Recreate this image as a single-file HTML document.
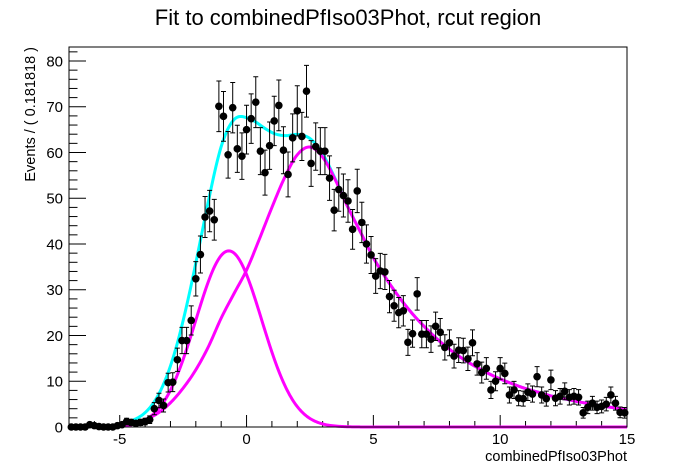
<!DOCTYPE html>
<html><head><meta charset="utf-8">
<style>
html,body{margin:0;padding:0;background:#fff;}
svg{display:block;font-family:"Liberation Sans",Arial,sans-serif;}
</style></head>
<body>
<svg id="chart" width="696" height="474" viewBox="0 0 696 474">
  <rect x="0" y="0" width="696" height="474" fill="#fff"/>
  <text x="348" y="25" text-anchor="middle" font-size="22">Fit to combinedPfIso03Phot, rcut region</text>
  <text transform="translate(35,47) rotate(-90)" text-anchor="end" font-size="14.5">Events / ( 0.181818 )</text>
  <text x="627" y="461" text-anchor="end" font-size="14.5">combinedPfIso03Phot</text>
  <g id="axes"></g>
  <g id="curves"></g>
  <g id="points"></g>
  <rect x="69" y="47" width="558" height="380" fill="none" stroke="#000" stroke-width="1"/>
</svg>
<script>
const binValues = [0,0,0,0,0.5,0.3,0.1,0,0,0,0.3,0.5,1.2,1.0,0.8,1.0,1.2,1.6,4.0,5.8,4.7,9.7,9.8,14.7,18.9,18.9,23.3,32.4,37.7,45.9,47.2,45.3,70.1,67.9,59.5,69.8,60.8,59.2,65,67.4,71,60.3,55.6,61.5,66.9,70.3,60.5,55.2,63.2,69.1,63.5,73.4,57.6,61.3,60.3,60.3,54.4,47.4,51.9,50.6,49.4,43.2,51.6,44.7,40.0,37.6,33.0,34.1,33.9,28.5,26.5,25.0,25.4,18.5,20.4,29.1,20.3,20.3,19.2,22.0,20.7,17.4,18.4,15.5,16.8,16.7,14.9,18.4,13.8,11.9,12.8,8.1,10.0,12.8,11.7,7.0,8.1,6.3,6.2,7.6,7.2,11.0,7.0,6.2,10.3,6.3,6.7,7.8,6.5,6.7,6.5,3.1,4.3,5.2,4.3,4.5,5.0,7.0,5.2,3.2,3.1];
const binStart = -7, binWidth = 0.181818;
const gaussParams = [38.5, -0.7, 1.3];
const bkgX = [-5,-4.5,-4,-3.5,-3,-2.5,-2,-1.5,-1,-0.5,0,0.5,1,1.5,2,2.5,3,3.5,4,4.5,5,5.5,6,6.5,7,7.5,8,8.5,9,9.5,10,10.5,11,11.5,12,12.5,13,13.5,14,14.5,15];
const bkgY = [0.4,0.9,1.6,3,5.3,8.5,12.5,17.6,23.8,29.1,34.3,41,48,54.5,59.5,61.2,59,54,48,42.5,37,32.5,28.5,25,22,19.3,17,15,13.3,11.8,10.5,9.4,8.4,7.6,6.8,6.2,5.6,5.1,4.6,4.2,3.8];
const xTicks = [-5,0,5,10,15];
const yTicks = [0,10,20,30,40,50,60,70,80];

const X0=69,X1=627,Y0=427,Y1=47, xmin=-7,xmax=15,ymin=0,ymax=83.06;
const sx=v=>X0+(v-xmin)/(xmax-xmin)*(X1-X0);
const sy=v=>Y0-(v-ymin)/(ymax-ymin)*(Y0-Y1);
const NS="http://www.w3.org/2000/svg";
function mk(tag,attrs,parent){const e=document.createElementNS(NS,tag);for(const k in attrs)e.setAttribute(k,attrs[k]);parent.appendChild(e);return e;}
const axes=document.getElementById('axes'),curves=document.getElementById('curves'),points=document.getElementById('points');

for(let v=0;v<=82;v+=2){
  const major=v%10===0;
  const t=mk('line',{x1:X0,x2:X0+(major?17:8.5),y1:sy(v),y2:sy(v),stroke:'#000','stroke-width':1},axes);
  
  
}
yTicks.forEach(v=>{
  const t=mk('text',{x:X0-6,y:sy(v)+5.5,'text-anchor':'end','font-size':15},axes);
  t.textContent=v;
  
  
});
for(let v=-7;v<=15;v+=1){
  const major=v%5===0;
  const t=mk('line',{x1:sx(v),x2:sx(v),y1:Y0,y2:Y0-(major?12:6),stroke:'#000','stroke-width':1},axes);
  
  
}
xTicks.forEach(v=>{
  const t=mk('text',{x:sx(v),y:Y0+17,'text-anchor':'middle','font-size':15},axes);
  t.textContent=v;
  
  
});

function gauss(x){return gaussParams[0]*Math.exp(-Math.pow(x-gaussParams[1],2)/(2*gaussParams[2]*gaussParams[2]));}
function bkg(x){
  if(x<=bkgX[0])return bkgY[0];
  for(let i=0;i<bkgX.length-1;i++){
    if(x<=bkgX[i+1]){
      const p0=bkgY[Math.max(i-1,0)],p1=bkgY[i],p2=bkgY[i+1],p3=bkgY[Math.min(i+2,bkgY.length-1)];
      const t=(x-bkgX[i])/(bkgX[i+1]-bkgX[i]);
      return 0.5*((2*p1)+(-p0+p2)*t+(2*p0-5*p1+4*p2-p3)*t*t+(-p0+3*p1-3*p2+p3)*t*t*t);
    }
  }
  return bkgY[bkgY.length-1];
}
function path(f){let d='';for(let x=-4.95;x<=15.0001;x+=0.05){d+=(d?'L':'M')+sx(x).toFixed(2)+','+sy(f(x)).toFixed(2);}return d;}
const tot=mk('path',{d:path(x=>gauss(x)+bkg(x)),fill:'none',stroke:'#00ffff','stroke-width':3},curves);


const g1=mk('path',{d:path(gauss),fill:'none',stroke:'#ff00ff','stroke-width':3},curves);


const g2=mk('path',{d:path(bkg),fill:'none',stroke:'#ff00ff','stroke-width':3},curves);



binValues.forEach((v,i)=>{
  const x=binStart+binWidth*(i+0.5);
  const cx=sx(x),cy=sy(v);
  if(v>0){
    const e=0.66*Math.sqrt(v);
    const l=mk('path',{d:`M${cx},${sy(v+e)}L${cx},${sy(Math.max(v-e,0))}M${cx-2.5},${sy(v+e)}L${cx+2.5},${sy(v+e)}M${cx-2.5},${sy(Math.max(v-e,0))}L${cx+2.5},${sy(Math.max(v-e,0))}`,stroke:'#000','stroke-width':1,fill:'none'},points);
    
    
  }
  const c=mk('circle',{cx:cx,cy:cy,r:3.8,fill:'#000'},points);
  
  
});
</script>
</body></html>
